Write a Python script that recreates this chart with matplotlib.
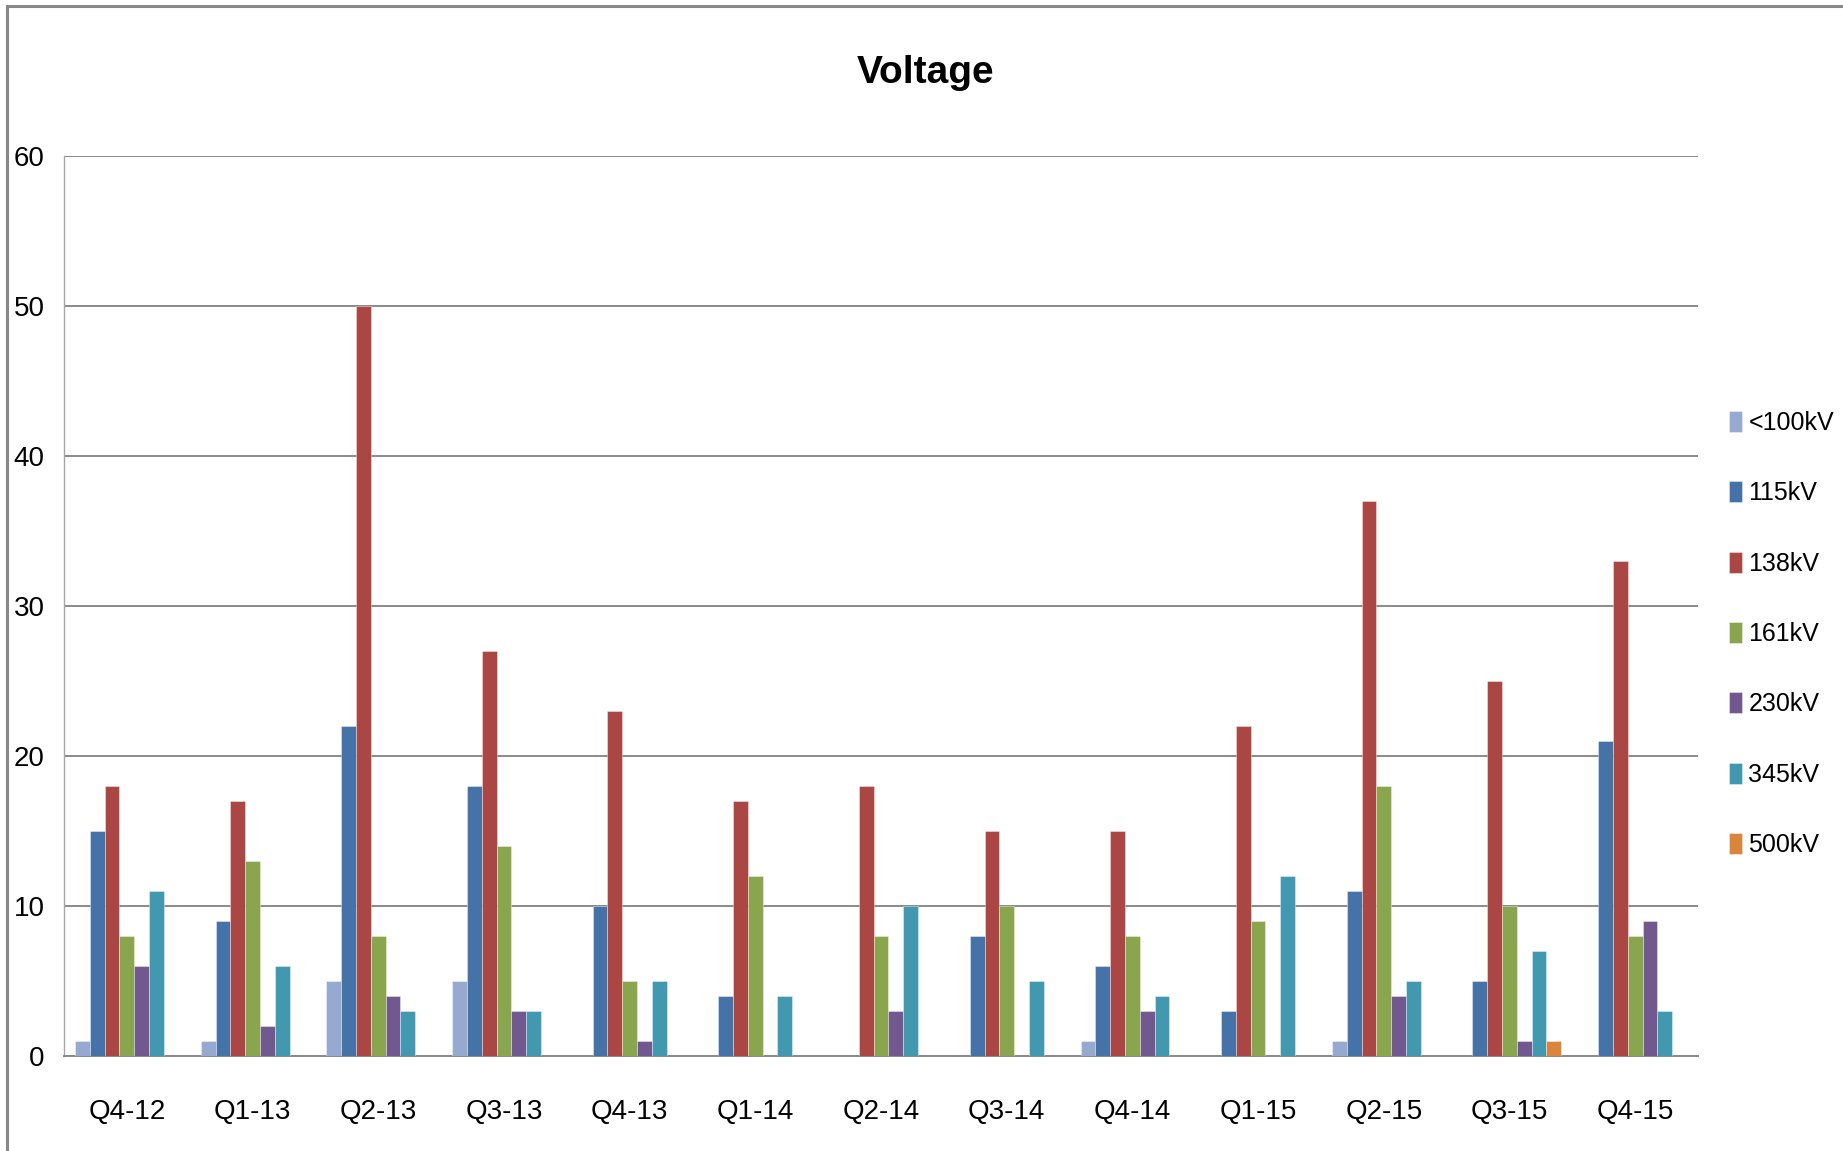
import numpy as np
import matplotlib.pyplot as plt
from matplotlib.patches import Rectangle

plt.rcParams['font.family'] = ['Liberation Sans', 'DejaVu Sans']

# Quarterly counts by voltage class
quarters = ["Q4-12", "Q1-13", "Q2-13", "Q3-13", "Q4-13", "Q1-14", "Q2-14",
            "Q3-14", "Q4-14", "Q1-15", "Q2-15", "Q3-15", "Q4-15"]
series_names = ["<100kV", "115kV", "138kV", "161kV", "230kV", "345kV", "500kV"]

kv_below_100 = [1, 1, 5, 5, 0, 0, 0, 0, 1, 0, 1, 0, 0]
kv_115 = [15, 9, 22, 18, 10, 4, 0, 8, 6, 3, 11, 5, 21]
kv_138 = [18, 17, 50, 27, 23, 17, 18, 15, 15, 22, 37, 25, 33]
kv_161 = [8, 13, 8, 14, 5, 12, 8, 10, 8, 9, 18, 10, 8]
kv_230 = [6, 2, 4, 3, 1, 0, 3, 0, 3, 0, 4, 1, 9]
kv_345 = [11, 6, 3, 3, 5, 4, 10, 5, 4, 12, 5, 7, 3]
kv_500 = [0, 0, 0, 0, 0, 0, 0, 0, 0, 0, 0, 1, 0]

all_series = [kv_below_100, kv_115, kv_138, kv_161, kv_230, kv_345, kv_500]
colors = ["#95A9D1", "#4572A7", "#AA4643", "#89A54E", "#71588F", "#4198AF", "#DB843D"]

W, H = 1843, 1151
fig = plt.figure(figsize=(W / 100, H / 100), dpi=100)
ax = fig.add_axes([64 / W, 1 - 1056 / H, (1698 - 64) / W, (1056 - 156) / H])

n = len(all_series)
bar_w = 1 / (n + 1.5)
x = np.arange(len(quarters))
for i, (vals, c, name) in enumerate(zip(all_series, colors, series_names)):
    offs = (i - (n - 1) / 2) * bar_w
    ax.bar(x + offs, vals, width=bar_w, color=c, label=name,
           edgecolor=(1, 1, 1, 0.45), linewidth=0.6, zorder=3)

ax.set_xlim(-0.5, len(quarters) - 0.5)
ax.set_ylim(0, 60)
ax.set_yticks(range(0, 61, 10))
ax.set_xticks(x)
ax.set_xticklabels(quarters)

ax.yaxis.grid(True, color="#8a8a8a", linewidth=1.4, zorder=0)
ax.set_axisbelow(True)
for s in ["top", "right"]:
    ax.spines[s].set_visible(False)
ax.spines["left"].set_color("#a6a6a6")
ax.spines["left"].set_linewidth(1.0)
ax.spines["bottom"].set_color("#8a8a8a")
ax.spines["bottom"].set_linewidth(1.4)

ax.tick_params(axis="both", length=0, labelsize=20, colors="black")
ax.tick_params(axis="y", pad=14)
ax.tick_params(axis="x", pad=31)

fig.text(926 / W, 1 - 73 / H, "Voltage", ha="center", va="center",
         fontsize=28, fontweight="bold")

fig.legend(loc="center left", bbox_to_anchor=(1729 / W, 1 - 634 / H),
           frameon=False, fontsize=18, handlelength=0.52, handleheight=0.92,
           handletextpad=0.25, labelspacing=1.85, borderpad=0, borderaxespad=0)

# outer chart border (top and left edges visible)
fig.add_artist(Rectangle((7 / W, -0.1), 1.2, 1.1 - 6 / H, transform=fig.transFigure,
                         fill=False, edgecolor="#888888", linewidth=2.2))

fig.savefig("out.png", dpi=100)
